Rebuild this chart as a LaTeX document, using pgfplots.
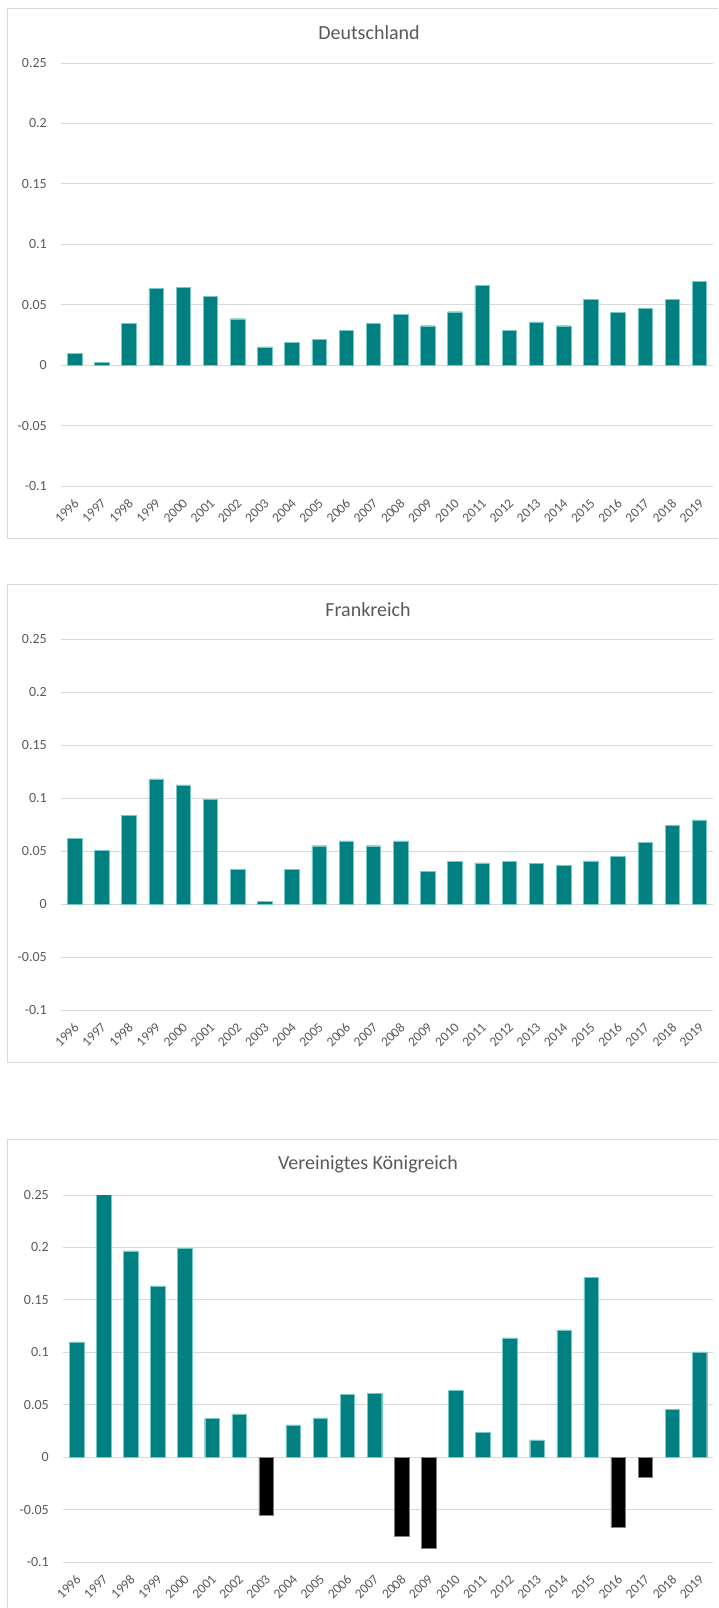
\documentclass[border=0pt]{standalone}
\usepackage{pgfplots}
\pgfplotsset{compat=1.18}
\usepackage{fontspec}
\setmainfont{Carlito}
\definecolor{barteal}{RGB}{0,128,128}
\definecolor{baredge}{RGB}{120,200,200}
\definecolor{txt}{RGB}{89,89,89}
\definecolor{grd}{RGB}{217,217,217}

\pgfplotsset{
  panel/.style={
    scale only axis, width=652pt,
    xmin=-0.5, xmax=23.5, ymin=-0.1, ymax=0.25,
    axis line style={draw=none}, major tick length=0pt,
    ymajorgrids, grid style={grd, line width=1pt},
    ytick={-0.1,-0.05,0,0.05,0.1,0.15,0.2,0.25},
    yticklabels={-0.1,-0.05,0,0.05,0.1,0.15,0.2,0.25},
    xtick={0,1,2,3,4,5,6,7,8,9,10,11,12,13,14,15,16,17,18,19,20,21,22,23},
    xticklabels={1996,1997,1998,1999,2000,2001,2002,2003,2004,2005,2006,2007,2008,2009,2010,2011,2012,2013,2014,2015,2016,2017,2018,2019},
    yticklabel style={font=\fontsize{14}{16}\selectfont, text=txt, anchor=east, inner sep=0pt, xshift=-14pt},
    xticklabel style={font=\fontsize{13.5}{15}\selectfont, text=txt, anchor=east, inner sep=0pt, yshift=-15pt, xshift=2pt, rotate=45},
    ybar, bar width=14.5pt,
  },
  tealbar/.style={fill=barteal, draw=baredge, line width=0.4pt, bar shift=0pt},
  blackbar/.style={fill=black, draw=gray, line width=0.4pt, bar shift=0pt},
}

\begin{document}
\begin{tikzpicture}
\useasboundingbox (0,0) rectangle (718pt,-1608pt);
% panel frames
\draw[grd, line width=1pt] (718pt,-9pt) -- (7pt,-9pt) -- (7pt,-538pt) -- (718pt,-538pt);
\draw[grd, line width=1pt] (718pt,-584pt) -- (7pt,-584pt) -- (7pt,-1062pt) -- (718pt,-1062pt);
\draw[grd, line width=1pt] (718pt,-1139pt) -- (7pt,-1139pt) -- (7pt,-1608pt);

% Deutschland
\node[text=txt, font=\fontsize{20}{24}\selectfont] at (369pt,-33pt) {Deutschland};
\begin{axis}[panel, height=423pt, at={(61pt,-486pt)}, anchor=south west]
\addplot[tealbar] coordinates {
(0,0.0099) (1,0.0025) (2,0.0345) (3,0.0633) (4,0.0646) (5,0.0572)
(6,0.0384) (7,0.0152) (8,0.0188) (9,0.0215) (10,0.029) (11,0.0345)
(12,0.042) (13,0.0326) (14,0.0442) (15,0.0663) (16,0.029) (17,0.0359)
(18,0.0326) (19,0.0547) (20,0.0436) (21,0.0472) (22,0.0547) (23,0.0693)};
\end{axis}

% Frankreich
\node[text=txt, font=\fontsize{20}{24}\selectfont] at (368pt,-610pt) {Frankreich};
\begin{axis}[panel, height=371pt, at={(61pt,-1010pt)}, anchor=south west]
\addplot[tealbar] coordinates {
(0,0.0617) (1,0.0503) (2,0.0835) (3,0.118) (4,0.1123) (5,0.099)
(6,0.0329) (7,0.0025) (8,0.0329) (9,0.055) (10,0.0595) (11,0.055)
(12,0.0595) (13,0.031) (14,0.0402) (15,0.0389) (16,0.0402) (17,0.0383)
(18,0.0364) (19,0.0408) (20,0.0449) (21,0.0582) (22,0.074) (23,0.0794)};
\end{axis}

% Vereinigtes Koenigreich
\node[text=txt, font=\fontsize{20}{24}\selectfont] at (368pt,-1164pt) {Vereinigtes Königreich};
\begin{axis}[panel, width=650pt, height=367pt, at={(63pt,-1562pt)}, anchor=south west]
\addplot[tealbar] coordinates {
(0,0.110) (1,0.2511) (2,0.1968) (3,0.1634) (4,0.199) (5,0.0369)
(6,0.0413) (8,0.0308) (9,0.0375) (10,0.0598) (11,0.061)
(14,0.0636) (15,0.0238) (16,0.1138) (17,0.0165) (18,0.1214) (19,0.1713)
(22,0.0458) (23,0.1004)};
\addplot[blackbar] coordinates {
(7,-0.055) (12,-0.0753) (13,-0.0868) (20,-0.0668) (21,-0.0188)};
\end{axis}
\end{tikzpicture}
\end{document}
